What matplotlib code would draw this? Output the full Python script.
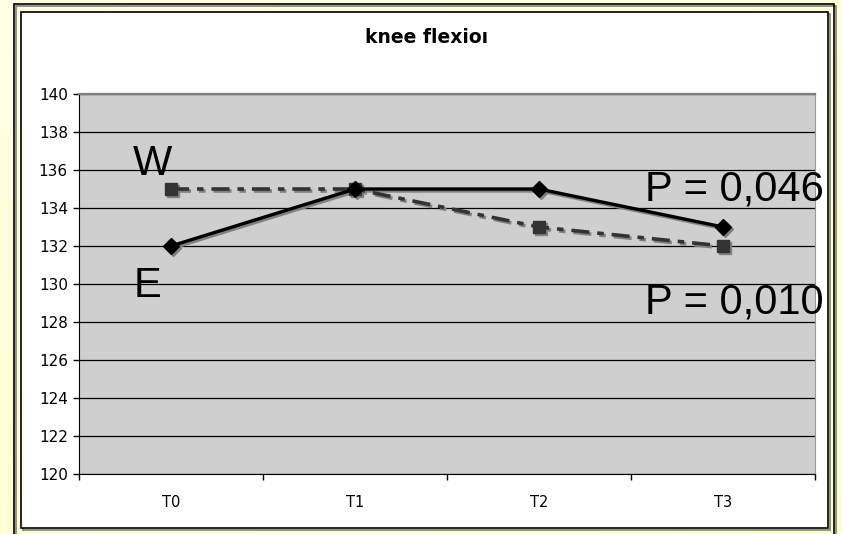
import matplotlib
matplotlib.use("Agg")
import matplotlib.pyplot as plt
import matplotlib.patheffects as pe
import matplotlib.transforms as mtransforms
from matplotlib.patches import Rectangle
import numpy as np

W_PX, H_PX = 842, 534

times = ["T0", "T1", "T2", "T3"]
e_values = [132, 135, 135, 133]
w_values = [135, 135, 133, 132]
y_ticks = list(range(120, 141, 2))


def fx(px):
    return px / W_PX


def fy(py):
    return 1 - py / H_PX


fig = plt.figure(figsize=(W_PX / 100, H_PX / 100), dpi=100)

# pale yellow gradient background
bg = fig.add_axes([0, 0, 1, 1], zorder=-10)
gx = np.linspace(0, 1, 200)
gy = np.linspace(0, 1, 120)
GX, GY = np.meshgrid(gx, gy)
grad = np.clip(0.25 * (1 - GX) + 0.35 * GY, 0, 1)
c_lo = np.array([1.0, 1.0, 0.80])
c_hi = np.array([1.0, 1.0, 0.96])
img = c_lo[None, None, :] * (1 - grad[..., None]) + c_hi[None, None, :] * grad[..., None]
bg.imshow(img, extent=[0, 1, 0, 1], origin="lower", aspect="auto")
bg.set_axis_off()

frame_fx = [pe.SimpleLineShadow(offset=(1.5, -1.5), shadow_color="gray", alpha=1), pe.Normal()]
# outer frame
fig.add_artist(Rectangle((fx(14), fy(540)), fx(834) - fx(14), fy(4) - fy(540),
                         transform=fig.transFigure, fill=False, ec="black", lw=1.2,
                         path_effects=frame_fx))
# white chart area
fig.add_artist(Rectangle((fx(21), fy(528)), fx(828) - fx(21), fy(12) - fy(528),
                         transform=fig.transFigure, fc="white", ec="black", lw=1.2, zorder=-5,
                         path_effects=frame_fx))

ax = fig.add_axes([fx(79), fy(474), fx(815) - fx(79), fy(94) - fy(474)])
ax.set_facecolor("#cfcfcf")
x = np.arange(len(times))

# drop shadow: same series, shifted 2 px right and down, in gray
shift = ax.transData + mtransforms.ScaledTranslation(2 / 100, -2 / 100, fig.dpi_scale_trans)
w_style = dict(lw=2.6, dashes=(5, 2.2, 1.8, 2.2), marker="s", ms=8.5)
e_style = dict(lw=2.4, marker="D", ms=8)

ax.plot(x, w_values, color="#808080", mfc="#808080", mec="#808080", transform=shift, zorder=2, **w_style)
ax.plot(x, e_values, color="#808080", mfc="#808080", mec="#808080", transform=shift, zorder=2, **e_style)
ax.plot(x, w_values, color="#333333", mfc="#333333", mec="#333333", zorder=3, **w_style)
ax.plot(x, e_values, color="black", mfc="black", mec="black", zorder=4, **e_style)

ax.set_ylim(120, 140)
ax.set_yticks(y_ticks)
ax.yaxis.grid(True, color="black", lw=0.9)
ax.set_axisbelow(True)

ax.set_xlim(-0.5, 3.5)
ax.set_xticks(np.arange(-0.5, 3.6, 1.0))
ax.set_xticklabels([])
ax.set_xticks(x, minor=True)
ax.set_xticklabels(times, minor=True)
ax.tick_params(axis="x", which="major", length=4, width=1, color="black", direction="out")
ax.tick_params(axis="x", which="minor", length=0, pad=15, labelsize=10.5)
ax.tick_params(axis="y", length=4, width=1, direction="out", pad=4, labelsize=11)

for lab in ax.get_xticklabels(minor=True) + ax.get_yticklabels():
    lab.set_family("DejaVu Sans")

ax.spines["left"].set_color("black")
ax.spines["bottom"].set_color("black")
ax.spines["top"].set_color("#7f7f7f")
ax.spines["top"].set_linewidth(1.6)
ax.spines["right"].set_color("#9a9a9a")

big = dict(fontsize=30, family="Liberation Sans", va="baseline", ha="left", color="black")
ax.text(-0.21, 135.74, "W", **big)
ax.text(-0.205, 129.32, "E", **big)
ax.text(2.576, 134.42, "P = 0,046", **big)
ax.text(2.576, 128.47, "P = 0,010", **big)

fig.text(fx(427), fy(37), "knee flexio\u0131", ha="center", va="center",
         fontsize=13.5, fontweight="bold", family="DejaVu Sans")

fig.savefig("out.png", dpi=100)
